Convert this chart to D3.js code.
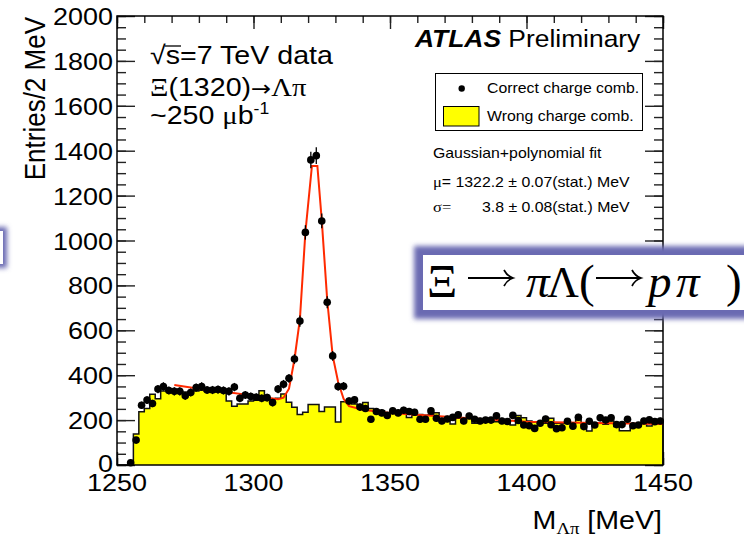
<!DOCTYPE html>
<html>
<head>
<meta charset="utf-8">
<script src="https://cdn.jsdelivr.net/npm/d3@7"></script>
<style>
body { margin: 0; background: #fff; }
text { font-family: "Liberation Sans", Arial, sans-serif; fill: #000; }
.sym { font-family: "Liberation Serif", "Times New Roman", serif; }
.arr { font-family: "DejaVu Sans", sans-serif; }
</style>
</head>
<body>
<div id="chart"></div>
<script>
var w = 744;
var h = 539;

// 2 MeV bins from 1250 to 1450
var binLow = 1250;
var binWidth = 2;

// correct charge combination (points)
var correct = [null, null, 10, 111, 266, 289, 274, 338, 350, 332,
               328, 328, 308, 323, 345, 350, 334, 334, 336, 332,
               328, 347, 297, 312, 305, 302, 297, 300, 278, 338,
               360, 386, 472, 641, 1036, 1359, 1378, 1087, 725, 486,
               350, 351, 285, 290, 258, 252, 204, 238, 232, 221,
               241, 232, 244, 238, 235, 204, 204, 241, 208, 196,
               205, 212, 224, 196, 218, 204, 196, 200, 200, 219,
               196, 194, 221, 198, 178, 175, 163, 186, 205, 179,
               162, 166, 195, 173, 213, 171, 195, 178, 210, 200,
               210, 180, 180, 204, 175, 178, 196, 201, 193, 196];

// wrong charge combination (yellow histogram)
var wrong = [0, 0, 0, 138, 237, 252, 315, 295, 330, 335,
             332, 330, 325, 320, 330, 333, 328, 325, 330, 331,
             285, 262, 272, 272, 285, 288, 331, 300, 292, 297,
             316, 280, 257, 225, 235, 270, 270, 238, 258, 258,
             192, 282, 278, 272, 260, 278, 252, 245, 242, 232,
             232, 232, 232, 212, 222, 225, 222, 225, 233, 205,
             205, 183, 208, 200, 210, 186, 200, 197, 197, 193,
             196, 193, 178, 220, 210, 196, 190, 193, 186, 208,
             186, 186, 193, 186, 202, 178, 151, 182, 186, 182,
             196, 171, 153, 153, 175, 178, 186, 174, 190, 193];

// fit curve as drawn (gaussian + polynomial)
var fitMass  = [1271, 1280, 1290, 1300, 1309, 1311, 1313, 1315, 1317, 1319, 1321.4, 1323.4,
                1325, 1327, 1329, 1331, 1333, 1335, 1340, 1350, 1375, 1400, 1425, 1450];
var fitCount = [356, 340, 325, 309, 293, 300, 340, 470, 650, 1035, 1332, 1332,
                1091, 735, 487, 370, 295, 262, 246, 232, 212, 193, 187, 183];

var xTicks = [1250, 1300, 1350, 1400, 1450];
var yTicks = [0, 200, 400, 600, 800, 1000, 1200, 1400, 1600, 1800, 2000];

var x = d3.scaleLinear().domain([1250, 1450]).range([117, 663]);
var y = d3.scaleLinear().domain([0, 2000]).range([465, 16]);

var svg = d3.select("#chart")
            .append("svg")
            .attr("width", w)
            .attr("height", h);

var defs = svg.append("defs");
defs.append("filter").attr("id", "glow")
    .attr("x", "-20%").attr("y", "-40%").attr("width", "140%").attr("height", "180%")
  .append("feGaussianBlur").attr("stdDeviation", 2.6);

// tick marks (inside the frame, ROOT style)
var xMinor = d3.range(1250, 1451, 10);
var yMinor = d3.range(0, 2001, 50);

function ticks(axis, tx, ty, values, size) {
  svg.append("g")
     .attr("transform", "translate(" + tx + "," + ty + ")")
     .call(axis.tickValues(values).tickSize(size).tickFormat(""))
     .call(function(g) { g.select(".domain").remove(); })
     .selectAll("line")
     .attr("stroke", "#222")
     .attr("stroke-width", 1.4);
}
ticks(d3.axisRight(y), 117, 0, yMinor, 9);
ticks(d3.axisRight(y), 117, 0, yTicks, 18);
ticks(d3.axisLeft(y), 663, 0, yMinor, 9);
ticks(d3.axisLeft(y), 663, 0, yTicks, 18);
ticks(d3.axisBottom(x), 0, 16, xMinor, 7);
ticks(d3.axisBottom(x), 0, 16, xTicks, 13);
ticks(d3.axisTop(x), 0, 465, xMinor, 7);
ticks(d3.axisTop(x), 0, 465, xTicks, 13);

// wrong charge histogram
var steps = wrong.map(function(v, i) { return [binLow + i * binWidth, v]; });
steps.push([binLow + wrong.length * binWidth, wrong[wrong.length - 1]]);

var area = d3.area()
             .x(function(d) { return x(d[0]); })
             .y0(y(0))
             .y1(function(d) { return y(d[1]); })
             .curve(d3.curveStepAfter);
var stepLine = d3.line()
                 .x(function(d) { return x(d[0]); })
                 .y(function(d) { return y(d[1]); })
                 .curve(d3.curveStepAfter);

svg.append("path")
   .attr("d", area(steps))
   .attr("fill", "#ffff00");
svg.append("path")
   .attr("d", stepLine(steps.concat([[1450, 0]])))
   .attr("fill", "none")
   .attr("stroke", "#111")
   .attr("stroke-width", 1.5);

// fit
var fitPts = fitMass.map(function(m, i) { return [m, fitCount[i]]; });
svg.append("path")
   .attr("d", d3.line().x(function(d) { return x(d[0]); }).y(function(d) { return y(d[1]); })(fitPts))
   .attr("fill", "none")
   .attr("stroke", "#ff2a00")
   .attr("stroke-width", 2);

// correct charge points
var pts = correct.map(function(v, i) { return { m: binLow + binWidth * (i + 0.5), n: v }; })
                 .filter(function(d) { return d.n !== null; });

svg.selectAll("line.err")
   .data(pts)
   .enter()
   .append("line")
   .attr("class", "err")
   .attr("x1", function(d) { return x(d.m); })
   .attr("x2", function(d) { return x(d.m); })
   .attr("y1", function(d) { return y(d.n - Math.sqrt(d.n)); })
   .attr("y2", function(d) { return y(d.n + Math.sqrt(d.n)); })
   .attr("stroke", "#000")
   .attr("stroke-width", 1.3);

svg.selectAll("circle.pt")
   .data(pts)
   .enter()
   .append("circle")
   .attr("class", "pt")
   .attr("cx", function(d) { return x(d.m); })
   .attr("cy", function(d) { return y(d.n); })
   .attr("r", 3.8)
   .attr("fill", "#000");

// frame
svg.append("rect")
   .attr("x", 117).attr("y", 16)
   .attr("width", 546).attr("height", 449)
   .attr("fill", "none")
   .attr("stroke", "#000")
   .attr("stroke-width", 1.5);

function txt(x0, y0, size, anchor) {
  return svg.append("text")
            .attr("transform", "translate(" + x0 + "," + y0 + ") scale(1.1,1)")
            .attr("text-anchor", anchor || "start")
            .style("font-size", size + "px");
}

// tick labels
yTicks.forEach(function(v) { txt(113, y(v) + (v === 0 ? 7 : 9), 24.5, "end").text(v); });
xTicks.forEach(function(v) { txt(x(v), 491, 24.5, "middle").text(v); });

// axis titles
svg.append("text")
   .attr("transform", "translate(45,17) rotate(-90) scale(1,1.1)")
   .attr("text-anchor", "end")
   .style("font-size", "26px")
   .text("Entries/2 MeV");

var xt = txt(662, 529, 26, "end");
xt.append("tspan").text("M");
xt.append("tspan").attr("dy", 5).attr("class", "sym").style("font-size", "17px").text("Λπ");
xt.append("tspan").attr("dy", -5).text(" [MeV]");

// top-left labels
var t1 = txt(150, 64, 26);
t1.append("tspan").text("√");
t1.append("tspan").text("s");
t1.append("tspan").text("=7 TeV data");
var n1 = t1.node();
var a1 = n1.getSubStringLength(0, 1) * 1.1;
var b1 = n1.getSubStringLength(1, 1) * 1.1;
svg.append("line")
   .attr("x1", 150 + a1 - 1).attr("x2", 150 + a1 + b1 + 1)
   .attr("y1", 46).attr("y2", 46)
   .attr("stroke", "#000").attr("stroke-width", 1.3);

var t2 = txt(150, 96, 26);
t2.append("tspan").attr("class", "sym").text("Ξ");
t2.append("tspan").text("(1320)");
t2.append("tspan").attr("class", "arr").style("font-size", "22px").text("→");
t2.append("tspan").attr("class", "sym").text("Λπ");

var t3 = txt(150, 124, 26);
t3.append("tspan").text("~250 ");
t3.append("tspan").attr("class", "sym").text("μ");
t3.append("tspan").text("b");
t3.append("tspan").attr("dy", -10).style("font-size", "16px").text("-1");

// ATLAS label
var at = txt(415, 47, 24);
at.append("tspan").style("font-weight", "bold").style("font-style", "italic").text("ATLAS");
at.append("tspan").text(" Preliminary");

// legend
svg.append("rect")
   .attr("x", 435.5).attr("y", 73.5)
   .attr("width", 207).attr("height", 57)
   .attr("fill", "#fff").attr("stroke", "#000").attr("stroke-width", 1);
svg.append("circle")
   .attr("cx", 461.7).attr("cy", 88.5).attr("r", 3.2).attr("fill", "#000");
txt(487, 93, 14.4).text("Correct charge comb.");
svg.append("rect")
   .attr("x", 443.5).attr("y", 106.5)
   .attr("width", 35.5).attr("height", 19.5)
   .attr("fill", "#ffff00").attr("stroke", "#000").attr("stroke-width", 1);
txt(487, 121, 14.4).text("Wrong charge comb.");

// fit results
txt(433, 158, 14.4).text("Gaussian+polynomial fit");
var f1 = txt(433, 187, 14.4);
f1.append("tspan").attr("class", "sym").style("font-size", "15px").text("μ");
f1.append("tspan").text("= 1322.2 ± 0.07(stat.) MeV");
txt(433, 212, 14.4).append("tspan").attr("class", "sym").style("font-size", "15px").text("σ=");
txt(482, 212, 14.4).text("3.8 ± 0.08(stat.) MeV");

// overlay boxes with glow
function glowBox(bx, by, bw, bh, pad) {
  svg.append("rect")
     .attr("x", bx - pad).attr("y", by - pad)
     .attr("width", bw + 2 * pad).attr("height", bh + 2 * pad)
     .attr("fill", "#6a6ab2")
     .attr("filter", "url(#glow)");
  svg.append("rect")
     .attr("x", bx).attr("y", by)
     .attr("width", bw).attr("height", bh)
     .attr("fill", "#fff");
}
glowBox(-300, 231, 303, 33, 4);
glowBox(423, 255, 340, 55, 9);

// decay formula, each piece placed like the typeset original
function eqPart(x0, str, italic, size) {
  return svg.append("text")
            .attr("x", x0).attr("y", 297)
            .attr("class", "sym")
            .style("font-size", (size || 47) + "px")
            .style("font-style", italic ? "italic" : "normal")
            .text(str);
}
// TeX style long arrow
function eqArrow(x0) {
  var ay = 278;
  svg.append("path")
     .attr("d", "M" + x0 + "," + ay + "H" + (x0 + 44))
     .attr("stroke", "#000").attr("stroke-width", 1.8).attr("fill", "none");
  svg.append("path")
     .attr("d", "M" + (x0 + 36) + "," + (ay - 8) +
                "Q" + (x0 + 39) + "," + (ay - 2) + " " + (x0 + 45) + "," + ay +
                "Q" + (x0 + 39) + "," + (ay + 2) + " " + (x0 + 36) + "," + (ay + 8))
     .attr("stroke", "#000").attr("stroke-width", 1.7).attr("fill", "none");
}
eqPart(427, "Ξ");
eqArrow(468);
eqPart(526, "π", true);
eqPart(547, "Λ", false, 44);
eqPart(579, "(");
eqArrow(596);
eqPart(648, "p", true);
eqPart(676, "π", true);
eqPart(726, ")");
</script>
</body>
</html>
